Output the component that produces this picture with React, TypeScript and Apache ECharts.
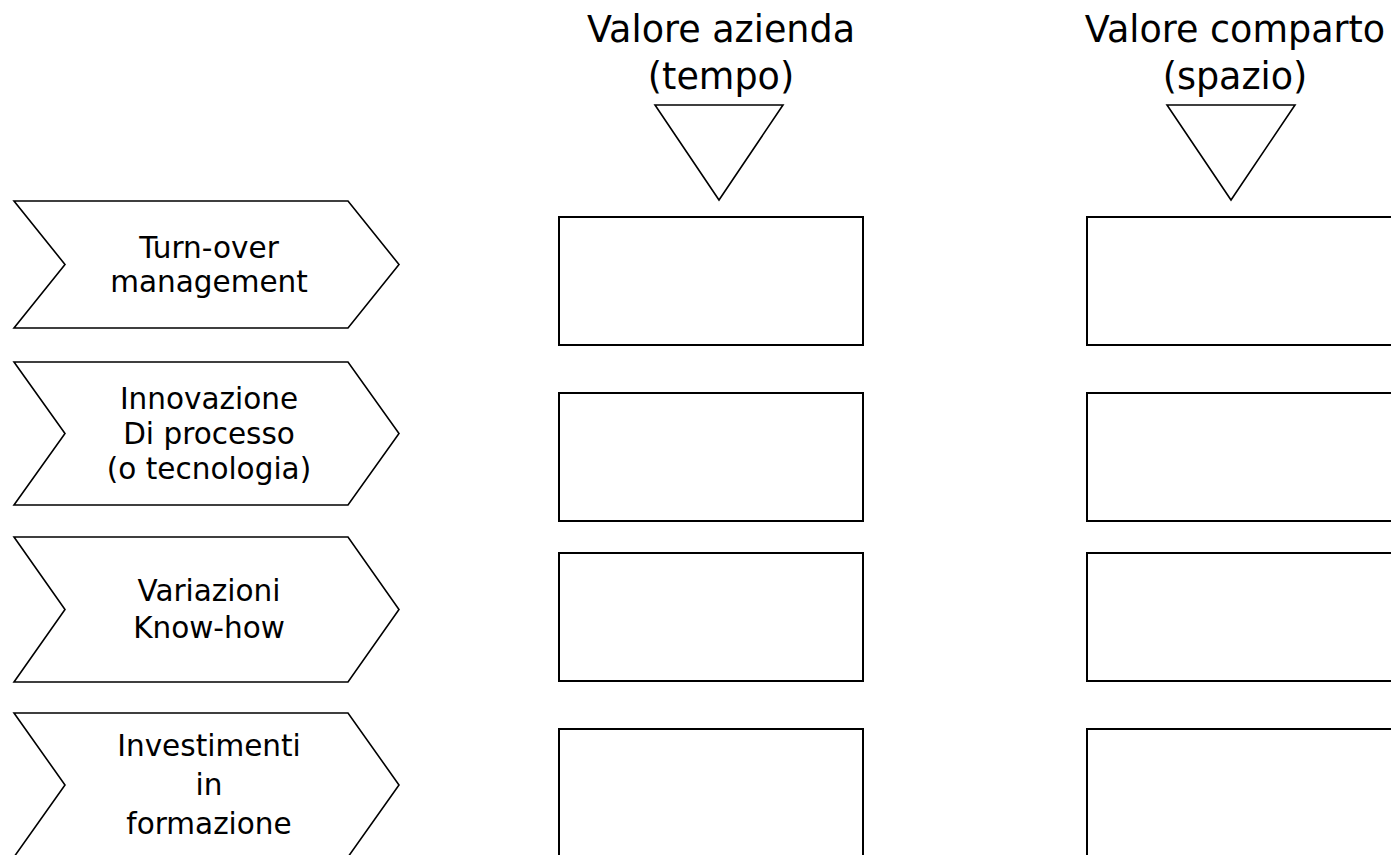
import React, { useEffect, useRef } from "react";
import * as echarts from "echarts";

// ---- content ----
const rowLabels: string[] = [
  "Turn-over\nmanagement",
  "Innovazione\nDi processo\n(o tecnologia)",
  "Variazioni\nKnow-how",
  "Investimenti\nin\nformazione",
];
const columnHeaders: string[] = ["Valore azienda\n(tempo)", "Valore comparto\n(spazio)"];

// ---- layout (pixels) ----
const chevronTops = [201, 362, 537, 713];
const chevronBottoms = [328, 505, 682, 857];
const chevronLeft = 14;
const chevronNotch = 65;
const chevronBodyRight = 348;
const chevronTip = 399;
const rowLineHeights = [34, 35, 37, 39];

const boxTops = [217, 393, 553, 729];
const boxHeight = 128;
const columnBoxLeft = [559, 1087];
const columnBoxWidth = [304, 308];
const columnCenters = [719, 1231];
const headerCenters = [721, 1235];
const triangleTop = 105;
const triangleHalf = 64;
const triangleApexY = 200;

const FONT = "'DejaVu Sans', Verdana, sans-serif";

export default function App() {
  const ref = useRef<HTMLDivElement>(null);
  useEffect(() => {
    if (!ref.current) return;
    const chart = echarts.init(ref.current, undefined, { renderer: "svg" });
    const elements: any[] = [];

    rowLabels.forEach((label, i) => {
      const t = chevronTops[i];
      const b = chevronBottoms[i];
      const m = (t + b) / 2;
      elements.push({
        type: "polygon",
        shape: {
          points: [
            [chevronLeft, t],
            [chevronBodyRight, t],
            [chevronTip, m],
            [chevronBodyRight, b],
            [chevronLeft, b],
            [chevronNotch, m],
          ],
        },
        style: { fill: "#fff", stroke: "#000", lineWidth: 1.6 },
      });
      elements.push({
        type: "text",
        x: 209,
        y: m,
        style: {
          text: label,
          fill: "#000",
          font: `29.5px ${FONT}`,
          lineHeight: rowLineHeights[i],
          align: "center",
          verticalAlign: "middle",
        },
      });
    });

    columnHeaders.forEach((header, c) => {
      elements.push({
        type: "text",
        x: headerCenters[c],
        y: 53,
        style: {
          text: header,
          fill: "#000",
          font: `36.5px ${FONT}`,
          lineHeight: 47,
          align: "center",
          verticalAlign: "middle",
        },
      });
      const cx = columnCenters[c];
      elements.push({
        type: "polygon",
        shape: {
          points: [
            [cx - triangleHalf, triangleTop],
            [cx + triangleHalf, triangleTop],
            [cx, triangleApexY],
          ],
        },
        style: { fill: "#fff", stroke: "#000", lineWidth: 1.6 },
      });
      boxTops.forEach((top) => {
        elements.push({
          type: "rect",
          shape: { x: columnBoxLeft[c], y: top, width: columnBoxWidth[c], height: boxHeight },
          style: { fill: "#fff", stroke: "#000", lineWidth: 2 },
        });
      });
    });

    chart.setOption({
      animation: false,
      backgroundColor: "#fff",
      graphic: { elements },
    });
    return () => chart.dispose();
  }, []);

  return (
    <div
      ref={ref}
      style={{ position: "fixed", left: 0, top: 0, width: 1391, height: 855, background: "#fff" }}
    />
  );
}
